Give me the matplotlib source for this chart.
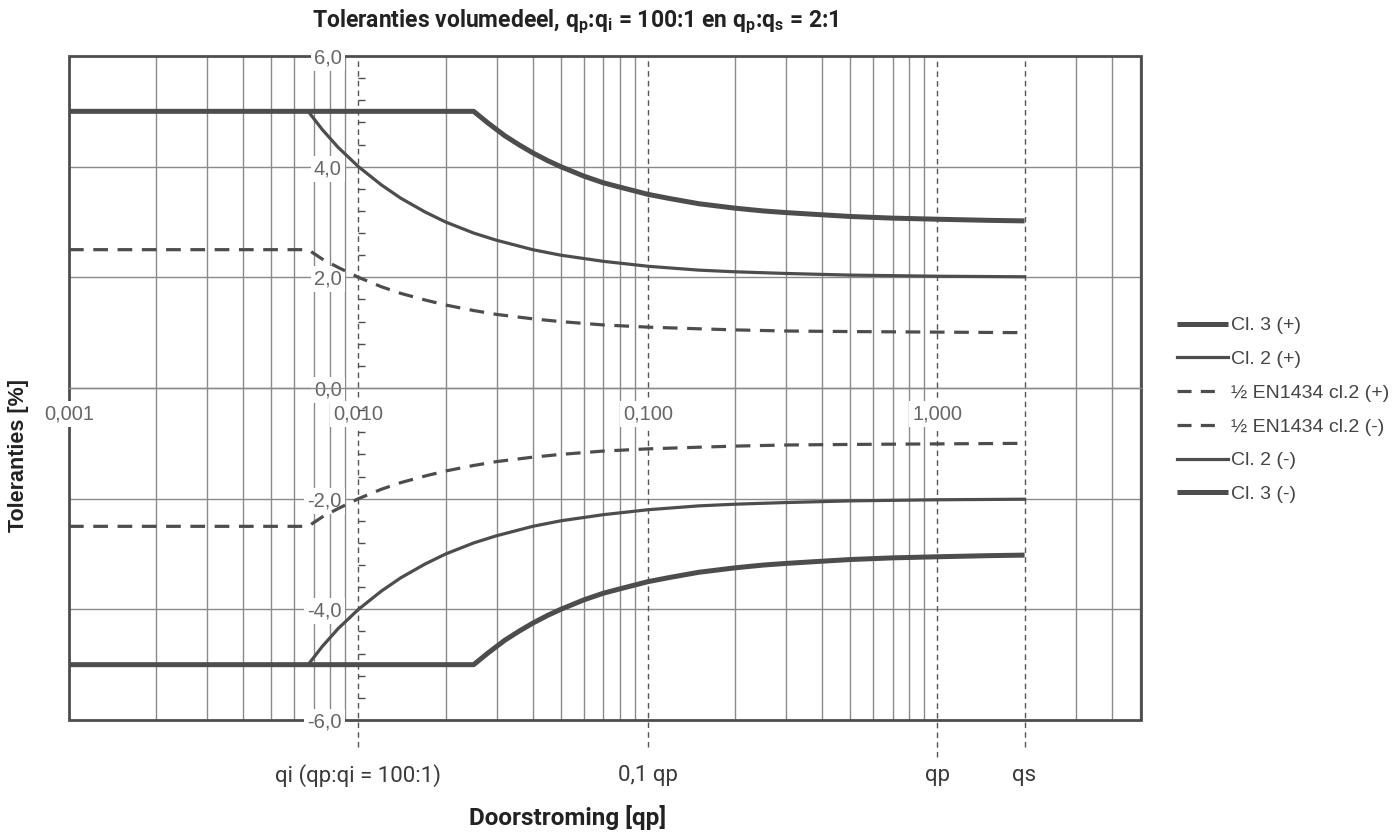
import matplotlib
matplotlib.use("Agg")
import matplotlib.pyplot as plt
from matplotlib.ticker import FixedLocator, MultipleLocator, NullFormatter
from matplotlib.patches import Rectangle
from matplotlib.lines import Line2D
import matplotlib.transforms as mtransforms

# ---------------- data ----------------
x_cl3 = [0.001, 0.025, 0.028, 0.032, 0.036, 0.04, 0.045, 0.05, 0.06, 0.07, 0.08, 0.1,
         0.12, 0.15, 0.2, 0.25, 0.3, 0.4, 0.5, 0.7, 1.0, 1.5, 2.0]
cl3_plus = [5.0, 5.0, 4.79, 4.56, 4.39, 4.25, 4.11, 4.0, 3.83, 3.71, 3.63, 3.5,
            3.42, 3.33, 3.25, 3.2, 3.17, 3.13, 3.1, 3.07, 3.05, 3.03, 3.02]
cl3_minus = [-5.0, -5.0, -4.79, -4.56, -4.39, -4.25, -4.11, -4.0, -3.83, -3.71, -3.63, -3.5,
             -3.42, -3.33, -3.25, -3.2, -3.17, -3.13, -3.1, -3.07, -3.05, -3.03, -3.02]

x_cl2 = [0.001, 0.0067, 0.0075, 0.0085, 0.01, 0.012, 0.014, 0.017, 0.02, 0.025, 0.03,
         0.04, 0.05, 0.07, 0.1, 0.15, 0.2, 0.3, 0.5, 1.0, 2.0]
cl2_plus = [5.0, 5.0, 4.67, 4.35, 4.0, 3.67, 3.43, 3.18, 3.0, 2.8, 2.67,
            2.5, 2.4, 2.29, 2.2, 2.13, 2.1, 2.07, 2.04, 2.02, 2.01]
cl2_minus = [-5.0, -5.0, -4.67, -4.35, -4.0, -3.67, -3.43, -3.18, -3.0, -2.8, -2.67,
             -2.5, -2.4, -2.29, -2.2, -2.13, -2.1, -2.07, -2.04, -2.02, -2.01]

x_en = [0.001, 0.0067, 0.0075, 0.0085, 0.01, 0.012, 0.014, 0.017, 0.02, 0.025, 0.03,
        0.04, 0.05, 0.07, 0.1, 0.15, 0.2, 0.3, 0.5, 1.0, 2.0]
en_plus = [2.5, 2.5, 2.33, 2.18, 2.0, 1.83, 1.71, 1.59, 1.5, 1.4, 1.33,
           1.25, 1.2, 1.14, 1.1, 1.07, 1.05, 1.03, 1.02, 1.01, 1.0]
en_minus = [-2.5, -2.5, -2.33, -2.18, -2.0, -1.83, -1.71, -1.59, -1.5, -1.4, -1.33,
            -1.25, -1.2, -1.14, -1.1, -1.07, -1.05, -1.03, -1.02, -1.01, -1.0]

x_major_ticks = [0.001, 0.01, 0.1, 1.0]
x_major_labels = ["0,001", "0,010", "0,100", "1,000"]
y_ticks = [-6, -4, -2, 0, 2, 4, 6]
y_labels = ["-6,0", "-4,0", "-2,0", "0,0", "2,0", "4,0", "6,0"]

marker_x = [0.01, 0.1, 1.0, 2.0]
marker_labels = ["qi (qp:qi = 100:1)", "0,1 qp", "qp", "qs"]

series_labels = ["Cl. 3 (+)", "Cl. 2 (+)", "\u00bd EN1434 cl.2 (+)",
                 "\u00bd EN1434 cl.2 (-)", "Cl. 2 (-)", "Cl. 3 (-)"]

# ---------------- figure ----------------
W, H = 1395, 834
fig = plt.figure(figsize=(W / 100, H / 100), dpi=100)
L, R, T, B = 69, 1141, 56, 720
ax = fig.add_axes([L / W, 1 - B / H, (R - L) / W, (B - T) / H])

dark = "#4d4d4d"
gridc = "#8a8a8a"
txtc = "#666666"

ax.set_xscale("log")
ax.set_xlim(0.001, 5.05)
ax.set_ylim(-6, 6)

# gridlines (vertical at every log position, horizontal at major y)
for e in (-3, -2, -1, 0):
    for m in range(1, 10):
        v = m * 10.0 ** e
        if v in marker_x or v <= 0.001 or v >= 5.05:
            continue
        ax.axvline(v, color=gridc, lw=1.0, zorder=1)
for yv in y_ticks:
    if abs(yv) < 6:
        ax.axhline(yv, color=gridc, lw=1.0, zorder=1)

# marker dashed vertical lines, extending below the plot
for xv in marker_x:
    ax.axvline(xv, ymin=-0.04 if xv != 1.0 else -0.055, ymax=1, color="#555555", lw=1.0,
               ls=(0, (4, 3)), clip_on=False, zorder=1.2)

# spines: frame as rectangle, axis lines through the data
for s in ("top", "right", "left"):
    ax.spines[s].set_visible(False)
ax.spines["bottom"].set_position(("data", 0))
ax.spines["bottom"].set_color(gridc)
ax.spines["bottom"].set_linewidth(1.0)
ax.spines["left"].set_position(("data", 0.01))
ax.add_patch(Rectangle((0, 0), 1, 1, transform=ax.transAxes, fill=False,
                       edgecolor=dark, lw=2.0, zorder=1.3, clip_on=False))

ax.xaxis.set_major_locator(FixedLocator(x_major_ticks))
ax.set_xticklabels(x_major_labels)
ax.xaxis.set_minor_formatter(NullFormatter())
ax.tick_params(axis="x", which="both", length=0, pad=12, labelsize=14.5, labelcolor=txtc)

ax.set_yticks(y_ticks)
ax.set_yticklabels(y_labels)
ax.yaxis.set_minor_locator(MultipleLocator(0.4))
ax.tick_params(axis="y", which="major", length=0, pad=12, labelsize=14.5, labelcolor=txtc)
ax.tick_params(axis="y", which="minor", left=True, length=5, direction="in", width=1.0, color=dark)
ax.xaxis.set_zorder(2.0)
ax.yaxis.set_zorder(2.0)

fig.canvas.draw()
for lbl in ax.get_xticklabels() + ax.get_yticklabels():
    lbl.set_fontfamily(["Liberation Sans", "DejaVu Sans"])
    lbl.set_bbox(dict(facecolor="white", edgecolor="none", pad=2.5))

# ---------------- curves ----------------
dash = (0, (4.6, 3.0))
l1, = ax.plot(x_cl3, cl3_plus, color=dark, lw=3.6, solid_capstyle="butt", zorder=3)
l2, = ax.plot(x_cl2, cl2_plus, color=dark, lw=2.3, zorder=3)
l3, = ax.plot(x_en, en_plus, color=dark, lw=2.3, ls=dash, zorder=3)
l4, = ax.plot(x_en, en_minus, color=dark, lw=2.3, ls=dash, zorder=3)
l5, = ax.plot(x_cl2, cl2_minus, color=dark, lw=2.3, zorder=3)
l6, = ax.plot(x_cl3, cl3_minus, color=dark, lw=3.6, solid_capstyle="butt", zorder=3)

# marker labels below
blend = mtransforms.blended_transform_factory(ax.transData, ax.transAxes)
for xv, t in zip(marker_x, marker_labels):
    ax.text(xv, -0.083, t, transform=blend, ha="center", va="center",
            fontsize=16, color="#3a3a3a", family=["Roboto", "DejaVu Sans"],
            fontweight="normal", clip_on=False)

# titles
fig.text(575 / W, 1 - 22 / H,
         r"Toleranties volumedeel, q$_\mathregular{p}$:q$_\mathregular{i}$ = 100:1 en "
         r"q$_\mathregular{p}$:q$_\mathregular{s}$ = 2:1",
         ha="center", va="center", fontsize=16.5, fontweight="bold",
         family=["Roboto", "DejaVu Sans"], color="#222222")
fig.text(568 / W, 1 - 818 / H, "Doorstroming [qp]", ha="center", va="center",
         fontsize=17.5, fontweight="bold", family=["Roboto", "DejaVu Sans"], color="#222222")
fig.text(19 / W, 1 - 456 / H, "Toleranties [%]", ha="center", va="center", rotation=90,
         fontsize=15.5, fontweight="bold", family=["Liberation Sans", "DejaVu Sans"],
         color="#222222")

# legend (proxy handles so the dashed sample shows two clean dashes)
leg_dash = (0, (4.4, 2.9, 4.4, 12))
h_cl3 = Line2D([], [], color=dark, lw=3.6, solid_capstyle="butt")
h_cl2 = Line2D([], [], color=dark, lw=2.3)
h_en = Line2D([], [], color=dark, lw=2.3, ls=leg_dash)
leg = fig.legend([h_cl3, h_cl2, h_en, h_en, h_cl2, h_cl3], series_labels,
                 loc="upper left", bbox_to_anchor=(1169 / W, 1 - 309 / H),
                 frameon=False, handlelength=2.65, handletextpad=0.12,
                 labelspacing=0.83, borderaxespad=0,
                 prop={"family": ["Liberation Sans", "DejaVu Sans"], "size": 14})
for t in leg.get_texts():
    t.set_color("#444444")

fig.savefig("out.png", dpi=100)
